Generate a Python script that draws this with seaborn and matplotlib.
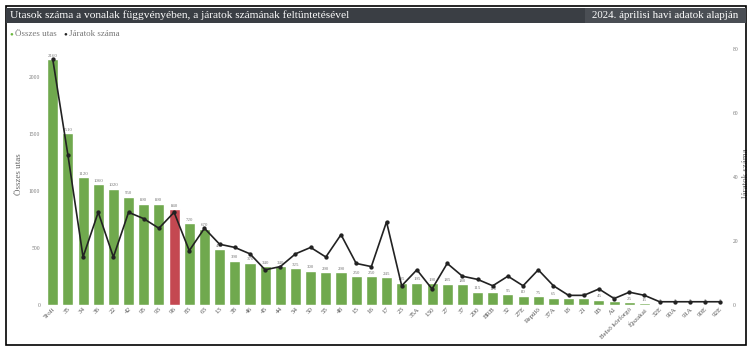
import seaborn as sns
import numpy as np
import pandas as pd
import matplotlib.pyplot as plt
import matplotlib as mpl
from matplotlib.patches import Rectangle

sns.set_style('white')
mpl.rcParams['font.family'] = ['Liberation Serif', 'DejaVu Serif']

lines = ['Troli', '35', '34', '36', '22', '42', '95', '93', '96', '83',
         '63', '13', '38', '46', '45', '44', '54', '50', '55', '48',
         '15', '16', '17', '23', '35A', '130', '27', '37', '200', 'BRB',
         '32', '27E', 'Repülő', '37A', '18', '21', '1B', 'A1', 'Belső körforgó', 'Éjszakai',
         '32E', '90A', '91A', '90E', '92E']
passengers = [2160, 1510, 1120, 1060, 1020, 950, 890, 890, 840, 720,
              670, 490, 390, 370, 340, 340, 325, 300, 290, 290,
              250, 250, 245, 195, 195, 190, 185, 180, 115, 110,
              95, 80, 75, 65, 60, 60, 45, 35, 25, 15,
              2, 2, 2, 2, 2]
trips = [77, 47, 15, 29, 15, 29, 27, 24, 29, 17,
         24, 19, 18, 16, 11, 12, 16, 18, 15, 22,
         13, 12, 26, 6, 11, 5, 13, 9, 8, 6,
         9, 6, 11, 6, 3, 3, 5, 2, 4, 3,
         1, 1, 1, 1, 1]
highlight = '96'

green = '#6cb83f'
red = '#d93340'
df = pd.DataFrame({'Vonal': lines, 'Összes utas': passengers, 'Járatok száma': trips})
palette = {l: (red if l == highlight else green) for l in lines}

fig = plt.figure(figsize=(7.52, 3.55), dpi=100)
ax = fig.add_axes([0.06, 0.141, 0.908, 0.738])

sns.barplot(data=df, x='Vonal', y='Összes utas', hue='Vonal', palette=palette,
            width=0.73, legend=False, ax=ax)
for c in ax.containers:
    ax.bar_label(c, fmt='%d', fontsize=3.5, color='#777777', padding=1)
ax.set_ylim(0, 2300)
ax.set_yticks([0, 500, 1000, 1500, 2000])
ax.set_xlim(-0.6, len(lines) - 0.4)
ax.set_xlabel('')
ax.set_ylabel('Összes utas', fontsize=6.5, color='#666666')
ax.tick_params(axis='y', labelsize=4, colors='#777777', length=0)
ax.tick_params(axis='x', labelsize=5, colors='#555555', length=0, pad=1)
plt.setp(ax.get_xticklabels(), rotation=45, ha='right', rotation_mode='anchor')
for s in ax.spines.values():
    s.set_visible(False)

ax2 = ax.twinx()
sns.pointplot(data=df, x='Vonal', y='Járatok száma', color='#222222',
              markers='o', markersize=2.2, linewidth=1.2, ax=ax2)
ax2.set_ylim(0, 82)
ax2.set_yticks([0, 20, 40, 60, 80])
ax2.set_ylabel('Járatok száma', fontsize=6.5, color='#666666')
ax2.yaxis.set_label_coords(1.021, 0.5)
ax2.tick_params(axis='y', labelsize=4, colors='#777777', length=0)
for s in ax2.spines.values():
    s.set_visible(False)
ax2.set_xlim(ax.get_xlim())

# title bar and frame
fig.patches.append(Rectangle((6 / 752, 1 - 345 / 355), 740 / 752, 339 / 355,
                             transform=fig.transFigure, fill=False, ec='black', lw=1.2))
fig.patches.append(Rectangle((6 / 752, 1 - 23 / 355), 740 / 752, 15 / 355,
                             transform=fig.transFigure, fc='#3a3e44', ec='none'))
fig.patches.append(Rectangle((585 / 752, 1 - 23 / 355), 161 / 752, 15 / 355,
                             transform=fig.transFigure, fc='#4a4e54', ec='none'))
fig.text(10 / 752, 1 - 15.5 / 355,
         'Utasok száma a vonalak függvényében, a járatok számának feltüntetésével',
         color='white', fontsize=8.2, va='center', ha='left')
fig.text(738 / 752, 1 - 15.5 / 355, '2024. áprilisi havi adatok alapján',
         color='white', fontsize=7.8, va='center', ha='right')

# legend
fig.text(9 / 752, 1 - 34 / 355, '●', color=green, fontsize=4.5, va='center')
fig.text(15 / 752, 1 - 34 / 355, 'Összes utas', color='#777777', fontsize=6.5, va='center')
fig.text(63 / 752, 1 - 34 / 355, '●', color='#222222', fontsize=4.5, va='center')
fig.text(69 / 752, 1 - 34 / 355, 'Járatok száma', color='#777777', fontsize=6.5, va='center')

fig.savefig('out.png', dpi=100)
